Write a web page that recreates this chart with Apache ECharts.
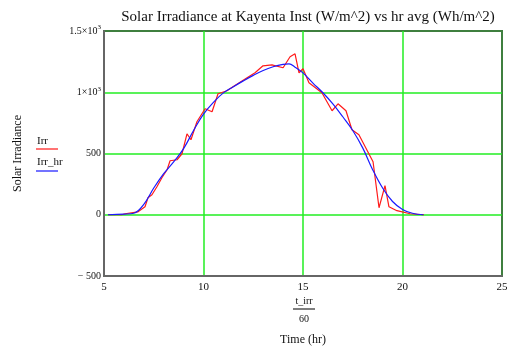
<!DOCTYPE html>
<html>
<head>
<meta charset="utf-8">
<script src="https://cdn.jsdelivr.net/npm/echarts@6/dist/echarts.min.js"></script>
<style>
  html, body { margin: 0; padding: 0; background: #fff; }
  #chart { width: 516px; height: 352px; }
</style>
</head>
<body>
<div id="chart"></div>
<script>
// 瞬时辐照 Irr (hr, W/m^2)
const irrHours = [5.2, 5.9, 6.06, 6.71, 7.06, 7.21, 7.41, 7.66, 7.91, 8.17, 8.32, 8.67, 8.92, 9.17, 9.37, 9.67,
  10.08, 10.43, 10.73, 11.18, 11.48, 12.19, 12.59, 12.99, 13.44, 14.0, 14.35, 14.6, 14.8, 15.0, 15.3, 15.95,
  16.46, 16.76, 17.16, 17.46, 17.81, 18.52, 18.82, 19.12, 19.32, 19.72, 20.38, 21.08];
const irrValues = [0, 0, 8, 24, 65, 139, 163, 229, 302, 367, 441, 449, 498, 661, 612, 759,
  865, 841, 988, 1012, 1045, 1118, 1159, 1216, 1224, 1200, 1290, 1314, 1159, 1192, 1078, 996,
  849, 906, 849, 694, 653, 433, 57, 237, 65, 33, 8, 0];
// 小时平均 Irr_hr
const hrHours = [5.2, 6.0, 6.5, 7.0, 7.5, 8.0, 8.5, 9.0, 9.5, 10.0, 10.5, 11.0, 11.5, 12.0, 12.5, 13.0, 13.5,
  14.0, 14.3, 14.6, 15.0, 15.5, 16.0, 16.5, 17.0, 17.5, 18.0, 18.5, 19.0, 19.5, 20.0, 20.5, 21.05];
const hrValues = [0, 5, 12, 85, 218, 335, 432, 540, 688, 822, 918, 995, 1045, 1093, 1138, 1178, 1208,
  1228, 1232, 1205, 1158, 1075, 996, 905, 800, 688, 546, 368, 218, 108, 43, 12, 0];

const serif = '"Liberation Serif", "DejaVu Serif", serif';
const gridGreen = '#22ee22';

const chart = echarts.init(document.getElementById('chart'));
chart.setOption({
  animation: false,
  title: {
    text: 'Solar Irradiance at Kayenta Inst (W/m^2) vs hr avg (Wh/m^2)',
    left: 303,
    textAlign: 'center',
    top: 5,
    textStyle: { fontFamily: serif, fontSize: 15, fontWeight: 'normal', color: '#111' }
  },
  grid: {
    left: 104, right: 14, top: 31, bottom: 76,
    show: true,
    borderColor: '#3f7f3f',
    borderWidth: 2
  },
  xAxis: {
    type: 'value',
    min: 5, max: 25, interval: 5,
    name: 'Time (hr)',
    nameLocation: 'middle',
    nameGap: 58,
    nameTextStyle: { fontFamily: serif, fontSize: 12, color: '#111' },
    axisLine: { show: true, onZero: false, lineStyle: { color: '#666', width: 2 } },
    axisTick: { show: false },
    axisLabel: { fontFamily: serif, fontSize: 11, color: '#111', margin: 6 },
    splitLine: { show: true, showMinLine: false, showMaxLine: false, lineStyle: { color: gridGreen, width: 1.5 } }
  },
  yAxis: {
    type: 'value',
    min: -500, max: 1500, interval: 500,
    name: 'Solar Irradiance',
    nameLocation: 'middle',
    nameRotate: 90,
    nameGap: 80,
    nameTextStyle: { fontFamily: serif, fontSize: 12, color: '#111' },
    axisLine: { show: true, onZero: false, lineStyle: { color: '#666', width: 2 } },
    axisTick: { show: false },
    axisLabel: {
      fontFamily: serif, fontSize: 10, color: '#111', margin: 3,
      formatter: function (v) {
        if (v === 1500) return '{a|1.5×10}{s|3}';
        if (v === 1000) return '{a|1×10}{s|3}';
        if (v < 0) return '− ' + (-v);
        return String(v);
      },
      rich: {
        a: { fontFamily: serif, fontSize: 10, color: '#111' },
        s: { fontFamily: serif, fontSize: 7, color: '#111', verticalAlign: 'bottom', padding: [0, 0, 7, 0] }
      }
    },
    splitLine: { show: true, showMinLine: false, showMaxLine: false, lineStyle: { color: gridGreen, width: 1.5 } }
  },
  series: [
    {
      name: 'Irr',
      type: 'line',
      showSymbol: false,
      data: irrHours.map((h, i) => [h, irrValues[i]]),
      lineStyle: { color: '#ff1a1a', width: 1.2 },
      z: 3
    },
    {
      name: 'Irr_hr',
      type: 'line',
      showSymbol: false,
      smooth: 0.4,
      data: hrHours.map((h, i) => [h, hrValues[i]]),
      lineStyle: { color: '#1a1aff', width: 1.2 },
      z: 4
    }
  ],
  graphic: [
    // 图例
    { type: 'text', left: 37, top: 136, style: { text: 'Irr', font: '11px ' + serif, fill: '#111' } },
    { type: 'line', shape: { x1: 36, y1: 149, x2: 58, y2: 149 }, style: { stroke: '#ff4444', lineWidth: 1.5 } },
    { type: 'text', left: 37, top: 157, style: { text: 'Irr_hr', font: '11px ' + serif, fill: '#111' } },
    { type: 'line', shape: { x1: 36, y1: 171, x2: 58, y2: 171 }, style: { stroke: '#4444ff', lineWidth: 1.5 } },
    // x 轴分式 t_irr / 60
    { type: 'text', x: 304, y: 296, style: { text: 't_irr', font: '10px ' + serif, fill: '#111', align: 'center' } },
    { type: 'line', shape: { x1: 293, y1: 309, x2: 315, y2: 309 }, style: { stroke: '#555', lineWidth: 1.5 } },
    { type: 'text', x: 304, y: 314, style: { text: '60', font: '10px ' + serif, fill: '#111', align: 'center' } }
  ]
});
</script>
</body>
</html>
